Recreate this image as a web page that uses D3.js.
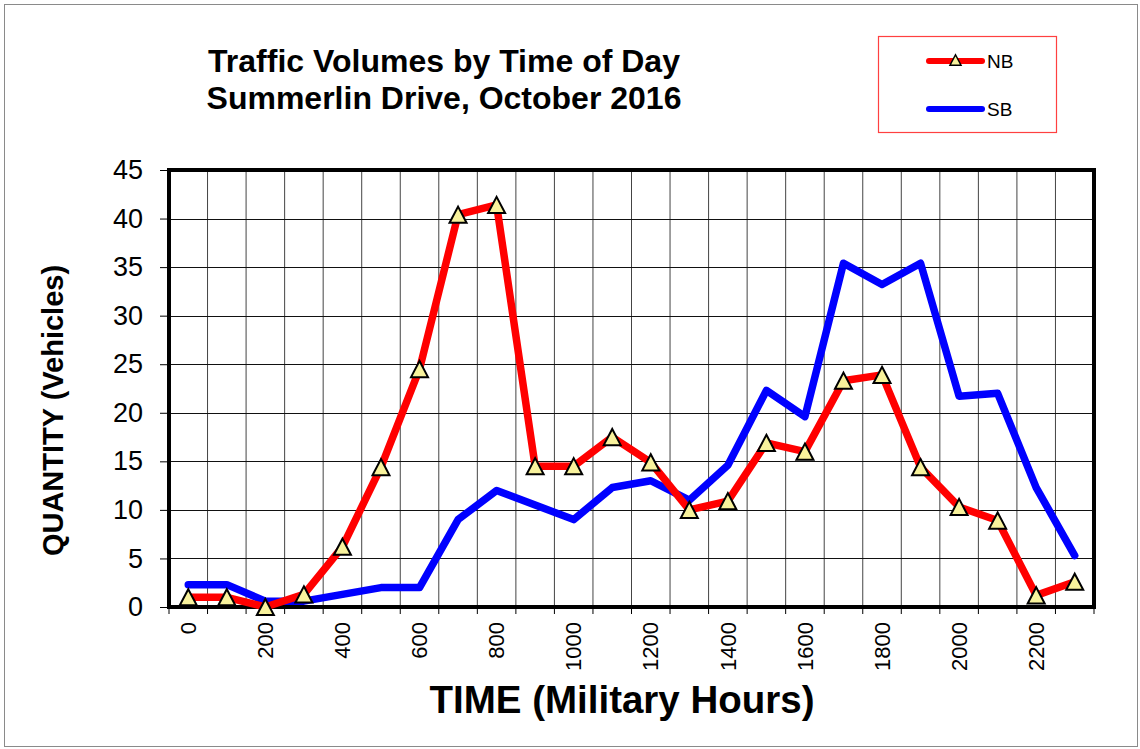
<!DOCTYPE html>
<html>
<head>
<meta charset="utf-8">
<script src="https://cdn.jsdelivr.net/npm/d3@7"></script>
<style>
  html, body { margin: 0; padding: 0; background: #fff; }
  svg { display: block; font-family: "Liberation Sans", Arial, sans-serif; }
</style>
</head>
<body>
<svg id="chart" width="1140" height="749"></svg>
<script>
// ---- Data ----
const hours = ["0","100","200","300","400","500","600","700","800","900","1000","1100",
               "1200","1300","1400","1500","1600","1700","1800","1900","2000","2100","2200","2300"];
const nbValues = [1.0, 1.0, 0.0, 1.3, 6.2, 14.4, 24.5, 40.4, 41.4, 14.5, 14.5, 17.5,
                  14.9, 10.0, 10.9, 16.9, 16.0, 23.3, 23.9, 14.4, 10.3, 8.9, 1.2, 2.6];
const sbValues = [2.3, 2.3, 0.6, 0.6, 1.3, 2.0, 2.0, 9.0, 12.0, 10.5, 9.0, 12.3,
                  13.0, 11.0, 14.6, 22.3, 19.6, 35.4, 33.2, 35.4, 21.7, 22.0, 12.3, 5.3];
const yTicks = [0, 5, 10, 15, 20, 25, 30, 35, 40, 45];
const xLabelHours = ["0","200","400","600","800","1000","1200","1400","1600","1800","2000","2200"];
const titleLines = ["Traffic Volumes by Time of Day", "Summerlin Drive, October 2016"];
const seriesNames = ["NB", "SB"];

// ---- Layout ----
const W = 1140, H = 749;
const plot = { left: 169, right: 1094, top: 170, bottom: 607 };
const svg = d3.select("#chart");

// outer frame
svg.append("rect").attr("x", 4.5).attr("y", 4.5).attr("width", W - 7).attr("height", H - 7)
  .attr("fill", "#fff").attr("stroke", "#8a8a8a").attr("stroke-width", 1);

const x = d3.scaleBand().domain(hours).range([plot.left, plot.right]).padding(0);
const y = d3.scaleLinear().domain([0, 45]).range([plot.bottom, plot.top]);
const cx = d => x(d) + x.bandwidth() / 2;

// gridlines
const grid = svg.append("g");
grid.selectAll("line.v").data(hours.slice(1)).join("line")
  .attr("x1", d => x(d)).attr("x2", d => x(d))
  .attr("y1", plot.top).attr("y2", plot.bottom)
  .attr("stroke", "#444").attr("stroke-width", 1);
grid.selectAll("line.h").data(yTicks.filter(t => t > 0 && t < 45)).join("line")
  .attr("x1", plot.left).attr("x2", plot.right)
  .attr("y1", d => Math.round(y(d)) + 0.5).attr("y2", d => Math.round(y(d)) + 0.5)
  .attr("stroke", "#111").attr("stroke-width", 1);

// y axis ticks & labels
const yAxis = d3.axisLeft(y).tickValues(yTicks).tickSize(9).tickPadding(17);
const yg = svg.append("g").attr("transform", `translate(${plot.left},0)`).call(yAxis);
yg.select(".domain").remove();
yg.selectAll(".tick line").attr("stroke", "#000").attr("stroke-width", 1);
yg.selectAll(".tick text").attr("font-size", 27).attr("fill", "#000")
  .attr("font-family", "'Liberation Sans', Arial, sans-serif");

// x ticks at band boundaries
const edges = hours.map(h => x(h)).concat([plot.right]);
svg.append("g").selectAll("line").data(edges).join("line")
  .attr("x1", d => d).attr("x2", d => d)
  .attr("y1", plot.bottom).attr("y2", plot.bottom + 7)
  .attr("stroke", "#000").attr("stroke-width", 1);

// x labels (rotated)
const xAxis = d3.axisBottom(x).tickValues(xLabelHours).tickSize(0).tickPadding(0);
const xg = svg.append("g").attr("transform", `translate(0,${plot.bottom})`).call(xAxis);
xg.select(".domain").remove();
xg.selectAll(".tick text")
  .attr("font-size", 22).attr("fill", "#000")
  .attr("font-family", "'Liberation Sans', Arial, sans-serif")
  .attr("text-anchor", "end")
  .attr("transform", "translate(0,15) rotate(-90)")
  .attr("x", 0).attr("y", 0).attr("dy", "0.35em");

// plot frame
svg.append("rect").attr("x", plot.left).attr("y", plot.top)
  .attr("width", plot.right - plot.left).attr("height", plot.bottom - plot.top)
  .attr("fill", "none").attr("stroke", "#000").attr("stroke-width", 4);

// lines
const line = d3.line().x(d => cx(d.h)).y(d => y(d.v));
const nbData = hours.map((h, i) => ({ h, v: nbValues[i] }));
const sbData = hours.map((h, i) => ({ h, v: sbValues[i] }));

svg.append("path").datum(sbData).attr("d", line)
  .attr("fill", "none").attr("stroke", "#0000ff").attr("stroke-width", 7.5)
  .attr("stroke-linejoin", "round").attr("stroke-linecap", "round");
svg.append("path").datum(nbData).attr("d", line)
  .attr("fill", "none").attr("stroke", "#ff0000").attr("stroke-width", 7.5)
  .attr("stroke-linejoin", "round").attr("stroke-linecap", "round");

// triangle markers
const tri = (px, py, s) => {
  const h = s * 0.95;
  return `M${px},${py - h / 2}L${px + s / 2},${py + h / 2}L${px - s / 2},${py + h / 2}Z`;
};
svg.append("g").selectAll("path").data(nbData).join("path")
  .attr("d", d => tri(cx(d.h), y(d.v), 17))
  .attr("fill", "#f8f29c").attr("stroke", "#000").attr("stroke-width", 2)
  .attr("stroke-linejoin", "miter");

// title
const title = svg.append("text").attr("text-anchor", "middle")
  .attr("font-weight", "bold").attr("font-size", 32).attr("fill", "#000");
title.selectAll("tspan").data(titleLines).join("tspan")
  .attr("x", 444).attr("y", (d, i) => 72 + i * 37).text(d => d);

// axis titles
svg.append("text").attr("text-anchor", "middle").attr("font-weight", "bold")
  .attr("font-size", 29).attr("fill", "#000")
  .attr("transform", `translate(63,${(plot.top + plot.bottom) / 2 + 22}) rotate(-90)`)
  .text("QUANTITY (Vehicles)");
svg.append("text").attr("text-anchor", "middle").attr("font-weight", "bold")
  .attr("font-size", 38.5).attr("fill", "#000")
  .attr("x", 622).attr("y", 713)
  .text("TIME (Military Hours)");

// legend
const lg = svg.append("g");
lg.append("rect").attr("x", 878.5).attr("y", 36.5).attr("width", 178).attr("height", 96)
  .attr("fill", "#fff").attr("stroke", "#ff4040").attr("stroke-width", 1.2);
const legendItems = [
  { name: seriesNames[0], color: "#ff0000", y: 61, marker: true },
  { name: seriesNames[1], color: "#0000ff", y: 109, marker: false }
];
legendItems.forEach(it => {
  lg.append("line").attr("x1", 929).attr("x2", 982).attr("y1", it.y).attr("y2", it.y)
    .attr("stroke", it.color).attr("stroke-width", 6).attr("stroke-linecap", "round");
  if (it.marker) {
    lg.append("path").attr("d", tri(955.5, it.y - 1, 11))
      .attr("fill", "#f8f29c").attr("stroke", "#000").attr("stroke-width", 1.5);
  }
  lg.append("text").attr("x", 987).attr("y", it.y + 6.5).attr("font-size", 19)
    .attr("fill", "#000").text(it.name);
});
</script>
</body>
</html>
